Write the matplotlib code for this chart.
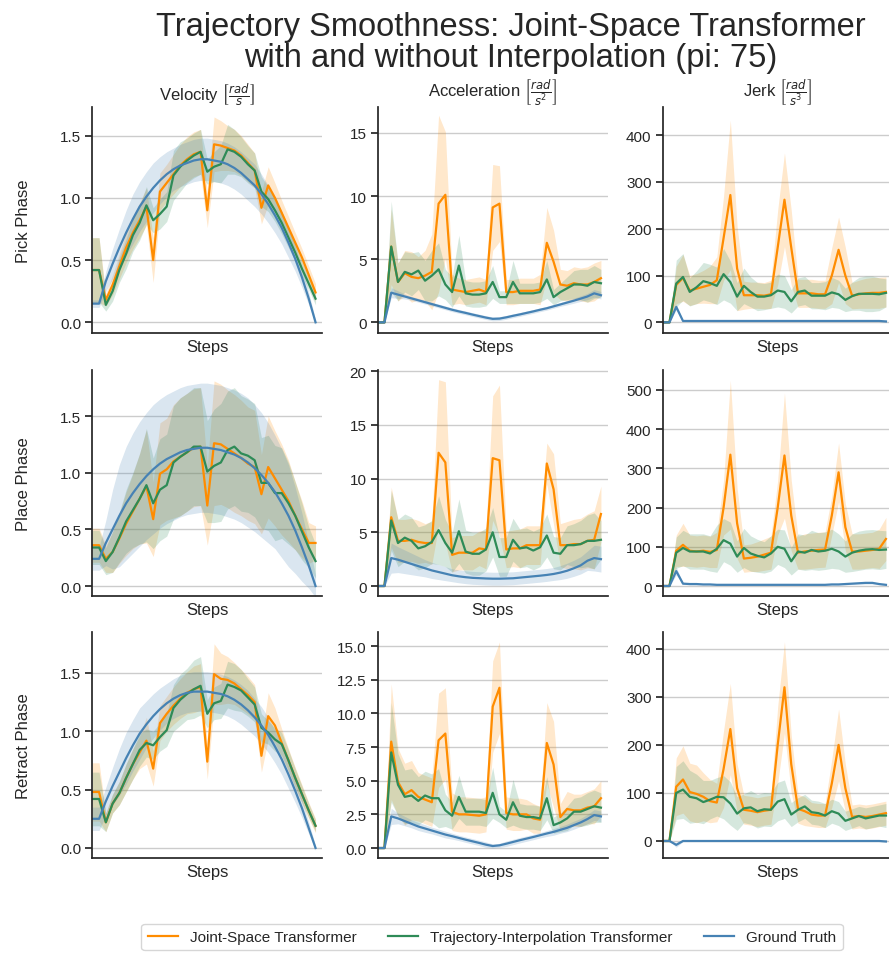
import matplotlib
matplotlib.use("Agg")
import matplotlib.pyplot as plt
import numpy as np

# trajectory smoothness, mean +- spread per step
plt.rcParams['font.family'] = ['Liberation Sans', 'DejaVu Sans']
plt.rcParams['text.color'] = '#262626'
plt.rcParams['axes.labelcolor'] = '#262626'
plt.rcParams['xtick.color'] = '#262626'
plt.rcParams['ytick.color'] = '#262626'

phases = ['Pick Phase', 'Place Phase', 'Retract Phase']
metrics = [r'Velocity $\left[\frac{rad}{s}\right]$',
           r'Acceleration $\left[\frac{rad}{s^2}\right]$',
           r'Jerk $\left[\frac{rad}{s^3}\right]$']
labels = ['Joint-Space Transformer', 'Trajectory-Interpolation Transformer', 'Ground Truth']
colors = ['#ff8c00', '#2e8b57', '#4682b4']

# ---- pick phase ----
pick_vel_js = [0.42, 0.42, 0.18, 0.30, 0.45, 0.60, 0.72, 0.82, 0.93, 0.50, 1.05, 1.12, 1.19, 1.26, 1.31, 1.35, 1.37,
               0.90, 1.43, 1.42, 1.40, 1.38, 1.34, 1.28, 1.22, 0.92, 1.10, 1.00, 0.88, 0.76, 0.64, 0.52, 0.38, 0.24]
pick_vel_js_sd = [0.26, 0.26, 0.05, 0.08, 0.10, 0.12, 0.13, 0.14, 0.15, 0.18, 0.15, 0.15, 0.16, 0.17, 0.18, 0.18, 0.18,
                  0.14, 0.22, 0.20, 0.18, 0.17, 0.16, 0.15, 0.14, 0.13, 0.15, 0.12, 0.10, 0.09, 0.08, 0.07, 0.07, 0.07]
pick_vel_ti = [0.42, 0.42, 0.14, 0.25, 0.42, 0.55, 0.70, 0.80, 0.94, 0.82, 0.87, 0.93, 1.18, 1.25, 1.30, 1.34, 1.37,
               1.21, 1.25, 1.27, 1.39, 1.37, 1.33, 1.27, 1.22, 1.05, 0.99, 0.90, 0.80, 0.68, 0.56, 0.43, 0.31, 0.19]
pick_vel_ti_sd = [0.26, 0.26, 0.05, 0.08, 0.10, 0.12, 0.13, 0.14, 0.15, 0.10, 0.12, 0.12, 0.20, 0.20, 0.18, 0.18, 0.18,
                  0.10, 0.12, 0.15, 0.20, 0.18, 0.16, 0.15, 0.14, 0.12, 0.10, 0.09, 0.09, 0.08, 0.07, 0.06, 0.05, 0.05]
pick_vel_gt = [0.15, 0.15, 0.33, 0.47, 0.60, 0.72, 0.83, 0.93, 1.01, 1.08, 1.14, 1.19, 1.23, 1.26, 1.28, 1.30, 1.31,
               1.31, 1.30, 1.29, 1.27, 1.24, 1.20, 1.15, 1.10, 1.03, 0.95, 0.86, 0.76, 0.64, 0.51, 0.36, 0.19, 0.00]
pick_vel_gt_sd = [0.03, 0.03, 0.08, 0.12, 0.15, 0.18, 0.20, 0.20, 0.20, 0.20, 0.19, 0.18, 0.17, 0.17, 0.17, 0.17, 0.17,
                  0.17, 0.17, 0.17, 0.17, 0.17, 0.17, 0.17, 0.17, 0.16, 0.15, 0.14, 0.13, 0.12, 0.10, 0.08, 0.05, 0.02]

pick_acc_js = [0, 0, 6.0, 3.2, 3.9, 3.6, 3.5, 3.7, 4.0, 9.4, 10.1, 2.6, 2.5, 2.4, 2.5, 2.6, 2.4,
               9.1, 9.4, 2.4, 2.4, 2.5, 2.5, 2.5, 2.6, 6.3, 4.8, 3.0, 2.9, 3.1, 3.0, 3.0, 3.2, 3.5]
pick_acc_js_sd = [0, 0, 3.0, 1.5, 1.8, 2.0, 1.7, 2.0, 3.0, 7.0, 5.0, 1.2, 1.0, 1.0, 1.0, 1.0, 1.0,
                  3.4, 3.0, 1.0, 1.0, 1.0, 1.0, 1.0, 1.2, 2.8, 2.5, 1.2, 1.2, 1.3, 1.3, 1.4, 1.5, 1.4]
pick_acc_ti = [0, 0, 6.0, 3.2, 4.0, 3.8, 4.1, 3.3, 3.7, 4.2, 3.0, 2.4, 4.5, 2.3, 2.2, 2.2, 2.3,
               3.2, 2.0, 2.0, 3.2, 2.3, 2.3, 2.3, 2.4, 3.4, 2.0, 2.4, 2.7, 3.0, 3.0, 2.9, 3.2, 3.1]
pick_acc_ti_sd = [0, 0, 3.6, 1.5, 1.6, 1.7, 1.5, 1.6, 2.0, 2.1, 1.2, 1.2, 2.4, 1.0, 1.0, 1.0, 1.0,
                  1.3, 0.5, 0.5, 1.7, 0.8, 0.8, 0.8, 0.8, 1.5, 0.6, 0.7, 0.9, 1.1, 1.2, 1.3, 1.3, 1.1]
pick_acc_gt = [0, 0, 2.35, 2.2, 2.05, 1.9, 1.75, 1.6, 1.45, 1.3, 1.15, 1.0, 0.87, 0.75, 0.62, 0.5, 0.38,
               0.28, 0.3, 0.4, 0.52, 0.63, 0.75, 0.87, 1.0, 1.12, 1.27, 1.42, 1.57, 1.72, 1.88, 2.05, 2.3, 2.15]
pick_acc_gt_sd = [0, 0, 0.4, 0.3, 0.2, 0.15, 0.15, 0.15, 0.15, 0.15, 0.15, 0.15, 0.15, 0.15, 0.15, 0.15, 0.15,
                  0.15, 0.15, 0.15, 0.15, 0.15, 0.15, 0.15, 0.15, 0.15, 0.15, 0.15, 0.18, 0.2, 0.22, 0.25, 0.3, 0.3]

pick_jerk_js = [0, 0, 80, 95, 68, 72, 76, 80, 90, 180, 272, 115, 58, 58, 58, 57, 60,
                160, 262, 160, 62, 62, 62, 60, 60, 100, 155, 100, 57, 60, 62, 63, 63, 65]
pick_jerk_js_sd = [0, 0, 40, 50, 32, 32, 35, 40, 50, 90, 160, 90, 30, 28, 28, 28, 30,
                   80, 100, 80, 30, 30, 30, 30, 30, 60, 70, 60, 28, 30, 32, 33, 33, 32]
pick_jerk_ti = [0, 0, 83, 97, 65, 75, 88, 84, 78, 103, 86, 55, 78, 65, 55, 55, 58,
                68, 65, 45, 65, 68, 57, 57, 57, 64, 60, 48, 56, 61, 61, 61, 60, 63]
pick_jerk_ti_sd = [0, 0, 50, 50, 30, 35, 40, 40, 40, 55, 45, 30, 38, 32, 30, 28, 28,
                   35, 35, 25, 30, 30, 28, 28, 30, 32, 30, 25, 30, 35, 38, 38, 35, 30]
pick_jerk_gt = [0, 0, 33, 3, 3, 3, 3, 3, 3, 3, 3, 3, 3, 3, 3, 3, 3,
                3, 3, 3, 3, 3, 3, 3, 3, 3, 3, 3, 3, 3, 3, 3, 3, 2]
pick_jerk_gt_sd = [0, 0, 6, 1, 1, 1, 1, 1, 1, 1, 1, 1, 1, 1, 1, 1, 1,
                   1, 1, 1, 1, 1, 1, 1, 1, 1, 1, 1, 1, 1, 1, 1, 1, 1]

# ---- place phase ----
place_vel_js = [0.36, 0.36, 0.24, 0.30, 0.42, 0.55, 0.66, 0.77, 0.88, 0.59, 0.99, 1.03, 1.10, 1.14, 1.18, 1.22, 1.23,
                0.71, 1.26, 1.25, 1.21, 1.17, 1.13, 1.08, 1.05, 0.81, 1.05, 0.95, 0.85, 0.75, 0.62, 0.50, 0.38, 0.38]
place_vel_js_sd = [0.15, 0.15, 0.12, 0.18, 0.22, 0.28, 0.33, 0.40, 0.50, 0.33, 0.45, 0.45, 0.50, 0.52, 0.52, 0.52, 0.52,
                   0.35, 0.55, 0.53, 0.52, 0.52, 0.51, 0.50, 0.50, 0.35, 0.45, 0.42, 0.40, 0.36, 0.30, 0.25, 0.18, 0.15]
place_vel_ti = [0.34, 0.34, 0.22, 0.30, 0.43, 0.57, 0.67, 0.77, 0.89, 0.73, 0.85, 0.89, 1.09, 1.14, 1.18, 1.23, 1.23,
                1.01, 1.06, 1.09, 1.20, 1.23, 1.17, 1.15, 1.11, 0.91, 0.91, 0.82, 0.82, 0.73, 0.62, 0.48, 0.34, 0.22]
place_vel_ti_sd = [0.15, 0.15, 0.12, 0.18, 0.22, 0.28, 0.33, 0.40, 0.50, 0.40, 0.45, 0.45, 0.50, 0.52, 0.52, 0.52, 0.52,
                   0.45, 0.50, 0.52, 0.52, 0.52, 0.51, 0.50, 0.50, 0.40, 0.42, 0.42, 0.40, 0.36, 0.30, 0.25, 0.18, 0.15]
place_vel_gt = [0.24, 0.24, 0.38, 0.50, 0.62, 0.73, 0.82, 0.90, 0.97, 1.03, 1.08, 1.12, 1.15, 1.18, 1.20, 1.21, 1.22,
                1.22, 1.21, 1.20, 1.18, 1.16, 1.13, 1.09, 1.04, 0.98, 0.91, 0.83, 0.73, 0.62, 0.49, 0.34, 0.18, 0.00]
place_vel_gt_sd = [0.10, 0.10, 0.20, 0.35, 0.45, 0.50, 0.53, 0.55, 0.56, 0.57, 0.57, 0.57, 0.57, 0.57, 0.57, 0.57, 0.57,
                   0.57, 0.57, 0.57, 0.57, 0.57, 0.57, 0.57, 0.56, 0.55, 0.53, 0.50, 0.48, 0.45, 0.38, 0.30, 0.20, 0.10]

place_acc_js = [0, 0, 6.4, 4.2, 4.2, 4.3, 4.1, 4.0, 4.0, 12.4, 11.5, 2.9, 3.1, 3.1, 3.1, 3.5, 3.4,
                11.9, 11.7, 3.4, 3.5, 3.5, 3.8, 3.8, 3.8, 11.4, 9.0, 3.8, 3.8, 3.9, 3.9, 4.2, 4.3, 6.7]
place_acc_js_sd = [0, 0, 2.8, 2.0, 2.0, 2.0, 2.0, 1.8, 2.0, 6.8, 7.5, 1.6, 1.6, 1.6, 1.6, 1.6, 1.8,
                   5.8, 7.0, 1.7, 1.7, 1.8, 1.8, 1.8, 1.8, 1.9, 3.3, 2.0, 2.2, 2.3, 2.4, 2.5, 2.7, 2.6]
place_acc_ti = [0, 0, 6.1, 4.0, 4.5, 4.2, 3.5, 3.7, 4.1, 5.2, 4.0, 3.1, 5.1, 3.2, 3.0, 3.0, 3.4,
                5.0, 2.7, 2.7, 4.3, 3.5, 3.6, 3.3, 3.6, 4.7, 3.1, 3.0, 3.8, 3.8, 3.9, 4.2, 4.2, 4.3]
place_acc_ti_sd = [0, 0, 2.8, 2.2, 2.2, 2.2, 2.0, 2.0, 2.0, 3.2, 2.2, 1.8, 3.0, 2.0, 2.0, 2.0, 2.0,
                   2.3, 1.8, 1.8, 2.0, 1.8, 1.8, 1.8, 1.8, 2.0, 1.5, 1.5, 1.8, 2.0, 2.2, 2.4, 2.6, 1.8]
place_acc_gt = [0, 0, 2.6, 2.45, 2.25, 2.05, 1.85, 1.65, 1.45, 1.3, 1.15, 1.0, 0.9, 0.82, 0.76, 0.73, 0.7,
                0.68, 0.68, 0.7, 0.72, 0.78, 0.84, 0.9, 0.96, 1.03, 1.12, 1.25, 1.42, 1.65, 1.92, 2.35, 2.6, 2.5]
place_acc_gt_sd = [0, 0, 1.4, 1.2, 1.1, 1.0, 0.9, 0.8, 0.75, 0.7, 0.65, 0.6, 0.6, 0.6, 0.6, 0.6, 0.6,
                   0.6, 0.6, 0.6, 0.6, 0.6, 0.6, 0.6, 0.6, 0.6, 0.6, 0.65, 0.7, 0.75, 0.8, 0.9, 1.2, 1.2]

place_jerk_js = [0, 0, 90, 105, 90, 88, 90, 87, 92, 200, 335, 160, 70, 72, 75, 80, 85,
                 200, 333, 180, 85, 88, 90, 92, 93, 180, 290, 150, 88, 88, 90, 92, 95, 120]
place_jerk_js_sd = [0, 0, 40, 55, 40, 40, 40, 40, 45, 70, 190, 90, 35, 35, 38, 40, 42,
                    70, 160, 90, 42, 45, 45, 45, 45, 50, 75, 60, 45, 45, 45, 45, 50, 55]
place_jerk_ti = [0, 0, 85, 97, 88, 88, 88, 83, 95, 117, 108, 75, 97, 83, 77, 73, 83,
                 100, 95, 63, 88, 85, 92, 88, 90, 95, 88, 75, 85, 90, 93, 94, 92, 93]
place_jerk_ti_sd = [0, 0, 40, 45, 45, 45, 45, 45, 60, 55, 55, 40, 50, 45, 42, 40, 45,
                    45, 48, 35, 45, 45, 50, 48, 48, 50, 45, 40, 48, 50, 50, 50, 50, 48]
place_jerk_gt = [0, 0, 38, 6, 5, 5, 4, 4, 3, 3, 3, 3, 3, 3, 3, 3, 3,
                 3, 3, 3, 3, 3, 3, 3, 3, 4, 4, 5, 6, 7, 8, 8, 5, 3]
place_jerk_gt_sd = [0, 0, 10, 2, 2, 2, 1, 1, 1, 1, 1, 1, 1, 1, 1, 1, 1,
                    1, 1, 1, 1, 1, 1, 1, 1, 1, 1, 2, 2, 2, 3, 3, 2, 1]

# ---- retract phase ----
retract_vel_js = [0.48, 0.48, 0.22, 0.38, 0.47, 0.60, 0.72, 0.82, 0.92, 0.68, 1.07, 1.15, 1.22, 1.28, 1.33, 1.36, 1.38,
                  0.74, 1.49, 1.45, 1.44, 1.41, 1.36, 1.31, 1.25, 0.79, 1.13, 1.05, 0.90, 0.75, 0.60, 0.46, 0.32, 0.19]
retract_vel_js_sd = [0.25, 0.25, 0.08, 0.08, 0.10, 0.12, 0.13, 0.14, 0.20, 0.15, 0.15, 0.15, 0.16, 0.17, 0.18, 0.20,
                     0.20, 0.15, 0.26, 0.22, 0.20, 0.18, 0.17, 0.16, 0.15, 0.14, 0.20, 0.15, 0.12, 0.10, 0.09, 0.08,
                     0.07, 0.06]
retract_vel_ti = [0.42, 0.42, 0.22, 0.38, 0.47, 0.60, 0.72, 0.84, 0.90, 0.88, 0.95, 1.01, 1.20, 1.27, 1.32, 1.36, 1.39,
                  1.15, 1.24, 1.26, 1.40, 1.38, 1.35, 1.29, 1.23, 1.03, 0.99, 0.93, 0.89, 0.75, 0.60, 0.46, 0.32, 0.19]
retract_vel_ti_sd = [0.23, 0.23, 0.08, 0.08, 0.10, 0.12, 0.13, 0.14, 0.12, 0.12, 0.12, 0.14, 0.20, 0.22, 0.22, 0.25,
                     0.25, 0.12, 0.14, 0.15, 0.20, 0.20, 0.18, 0.16, 0.15, 0.12, 0.10, 0.10, 0.10, 0.09, 0.08, 0.07,
                     0.06, 0.05]
retract_vel_gt = [0.25, 0.25, 0.40, 0.53, 0.65, 0.77, 0.88, 0.98, 1.06, 1.13, 1.19, 1.24, 1.28, 1.31, 1.33, 1.34, 1.34,
                  1.34, 1.33, 1.32, 1.30, 1.27, 1.23, 1.18, 1.12, 1.05, 0.97, 0.87, 0.76, 0.63, 0.49, 0.34, 0.17, 0.00]
retract_vel_gt_sd = [0.10, 0.10, 0.12, 0.16, 0.20, 0.22, 0.22, 0.22, 0.20, 0.19, 0.18, 0.17, 0.17, 0.17, 0.17, 0.17,
                     0.17, 0.17, 0.17, 0.17, 0.17, 0.17, 0.17, 0.17, 0.16, 0.16, 0.15, 0.14, 0.13, 0.12, 0.10, 0.08,
                     0.05, 0.02]

retract_acc_js = [0, 0, 7.9, 4.9, 4.0, 4.3, 3.8, 3.6, 3.4, 8.0, 8.5, 2.7, 2.5, 2.5, 2.45, 2.4, 2.5,
                  10.5, 11.9, 2.6, 2.5, 2.5, 2.5, 2.2, 2.1, 7.8, 6.2, 2.3, 2.9, 2.8, 2.8, 3.0, 3.1, 3.7]
retract_acc_js_sd = [0, 0, 4.3, 2.5, 2.3, 2.2, 1.8, 1.8, 1.8, 3.5, 3.4, 1.4, 1.3, 1.3, 1.3, 1.3, 1.3,
                     3.4, 3.4, 1.2, 1.2, 1.2, 1.1, 1.1, 1.0, 3.0, 3.2, 1.0, 1.3, 1.2, 1.2, 1.2, 1.3, 1.3]
retract_acc_ti = [0, 0, 7.1, 4.7, 3.8, 3.9, 3.5, 3.9, 3.7, 3.7, 2.8, 2.4, 3.8, 2.7, 2.7, 2.7, 2.6,
                  4.1, 2.5, 2.1, 3.4, 2.4, 2.3, 2.3, 2.2, 3.7, 1.7, 1.9, 2.2, 2.7, 2.7, 2.9, 3.1, 3.0]
retract_acc_ti_sd = [0, 0, 3.7, 2.3, 2.0, 2.0, 1.8, 1.8, 1.8, 2.2, 1.2, 1.0, 1.6, 1.0, 1.0, 1.0, 1.0,
                     1.9, 0.6, 0.6, 1.7, 0.9, 0.9, 0.9, 0.9, 1.6, 0.6, 0.7, 0.9, 1.0, 1.1, 1.2, 1.2, 1.1]
retract_acc_gt = [0, 0, 2.35, 2.2, 2.0, 1.8, 1.6, 1.45, 1.3, 1.15, 1.0, 0.88, 0.75, 0.62, 0.5, 0.38, 0.25,
                  0.15, 0.2, 0.32, 0.45, 0.58, 0.7, 0.82, 0.95, 1.08, 1.2, 1.35, 1.5, 1.7, 1.9, 2.15, 2.45, 2.35]
retract_acc_gt_sd = [0, 0, 0.6, 0.4, 0.35, 0.3, 0.3, 0.28, 0.25, 0.25, 0.25, 0.22, 0.2, 0.2, 0.2, 0.2, 0.2,
                     0.15, 0.15, 0.2, 0.2, 0.2, 0.2, 0.2, 0.2, 0.22, 0.25, 0.25, 0.28, 0.3, 0.3, 0.35, 0.4, 0.4]

retract_jerk_js = [0, 0, 113, 128, 102, 98, 92, 83, 80, 150, 233, 110, 65, 63, 60, 63, 65,
                   200, 320, 160, 67, 62, 55, 53, 53, 120, 200, 110, 50, 52, 50, 52, 55, 58]
retract_jerk_js_sd = [0, 0, 60, 70, 60, 60, 50, 45, 40, 80, 95, 50, 30, 30, 30, 30, 30,
                      80, 95, 60, 30, 30, 25, 25, 25, 50, 75, 50, 25, 25, 25, 25, 25, 25]
retract_jerk_ti = [0, 0, 100, 107, 92, 89, 81, 86, 92, 91, 78, 57, 68, 70, 62, 66, 65,
                   82, 87, 55, 65, 72, 60, 58, 53, 62, 57, 42, 47, 52, 47, 50, 53, 53]
retract_jerk_ti_sd = [0, 0, 55, 60, 55, 50, 45, 40, 40, 45, 45, 35, 30, 35, 35, 35, 35,
                      40, 40, 25, 25, 25, 25, 25, 25, 25, 25, 20, 20, 20, 22, 22, 22, 25]
retract_jerk_gt = [0, 0, -8, 0, 0, 0, 0, 0, 0, 0, 0, 0, 0, 0, 0, 0, 0,
                   0, 0, 0, 0, 0, 0, 0, 0, 0, 0, 0, 0, 0, 0, 0, 0, -1]
retract_jerk_gt_sd = [0, 0, 5, 1, 1, 1, 1, 1, 1, 1, 1, 1, 1, 1, 1, 1, 1,
                      1, 1, 1, 1, 1, 1, 1, 1, 1, 1, 1, 1, 1, 1, 1, 1, 1]

grid = [
    [(pick_vel_js, pick_vel_js_sd, pick_vel_ti, pick_vel_ti_sd, pick_vel_gt, pick_vel_gt_sd),
     (pick_acc_js, pick_acc_js_sd, pick_acc_ti, pick_acc_ti_sd, pick_acc_gt, pick_acc_gt_sd),
     (pick_jerk_js, pick_jerk_js_sd, pick_jerk_ti, pick_jerk_ti_sd, pick_jerk_gt, pick_jerk_gt_sd)],
    [(place_vel_js, place_vel_js_sd, place_vel_ti, place_vel_ti_sd, place_vel_gt, place_vel_gt_sd),
     (place_acc_js, place_acc_js_sd, place_acc_ti, place_acc_ti_sd, place_acc_gt, place_acc_gt_sd),
     (place_jerk_js, place_jerk_js_sd, place_jerk_ti, place_jerk_ti_sd, place_jerk_gt, place_jerk_gt_sd)],
    [(retract_vel_js, retract_vel_js_sd, retract_vel_ti, retract_vel_ti_sd, retract_vel_gt, retract_vel_gt_sd),
     (retract_acc_js, retract_acc_js_sd, retract_acc_ti, retract_acc_ti_sd, retract_acc_gt, retract_acc_gt_sd),
     (retract_jerk_js, retract_jerk_js_sd, retract_jerk_ti, retract_jerk_ti_sd, retract_jerk_gt, retract_jerk_gt_sd)],
]

ylims = [[(-0.086, 1.73), (-0.84, 17.05), (-22.7, 460)],
         [(-0.088, 1.906), (-0.93, 20.1), (-25.5, 551)],
         [(-0.086, 1.851), (-0.74, 16.04), (-35.4, 435)]]
yticks = [[[0, 0.5, 1.0, 1.5], [0, 5, 10, 15], [0, 100, 200, 300, 400]],
          [[0, 0.5, 1.0, 1.5], [0, 5, 10, 15, 20], [0, 100, 200, 300, 400, 500]],
          [[0, 0.5, 1.0, 1.5], [0, 2.5, 5, 7.5, 10, 12.5, 15], [0, 100, 200, 300, 400]]]
ytick_fmt = [['{:.1f}', '{:.0f}', '{:.0f}'],
             ['{:.1f}', '{:.0f}', '{:.0f}'],
             ['{:.1f}', '{:.1f}', '{:.0f}']]

W, H = 889, 954
fig = plt.figure(figsize=(W / 100, H / 100), dpi=100)

col_left = [92.3, 377.7, 662.7]
row_top = [108, 371, 633]
ax_w, ax_h = 230, 226

steps = np.arange(len(pick_vel_js))

for r in range(3):
    for c in range(3):
        ax = fig.add_axes([col_left[c] / W, 1 - (row_top[r] + ax_h) / H, ax_w / W, ax_h / H])
        data = grid[r][c]
        for i in range(3):
            m = np.array(data[2 * i], dtype=float)
            sd = np.array(data[2 * i + 1], dtype=float)
            ax.fill_between(steps, m - sd, m + sd, color=colors[i], alpha=0.2, linewidth=0)
            ax.plot(steps, m, color=colors[i], lw=1.6, label=labels[i])
        ax.set_xlim(0, len(steps))
        ax.set_ylim(*ylims[r][c])
        ax.set_yticks(yticks[r][c])
        ax.set_yticklabels([ytick_fmt[r][c].format(v) for v in yticks[r][c]], fontsize=11)
        ax.set_xticks([])
        ax.set_xlabel('Steps', fontsize=12, labelpad=4)
        ax.yaxis.grid(True, color='#cccccc', lw=1.0)
        ax.set_axisbelow(True)
        for s in ['top', 'right']:
            ax.spines[s].set_visible(False)
        for s in ['left', 'bottom']:
            ax.spines[s].set_color('#262626')
            ax.spines[s].set_linewidth(1.25)
        ax.tick_params(axis='y', length=5, width=1.25, pad=3)
        if r == 0:
            ax.set_title(metrics[c], fontsize=12, pad=5)
        if c == 0:
            ax.set_ylabel(phases[r], fontsize=12, labelpad=21)

fig.suptitle('Trajectory Smoothness: Joint-Space Transformer\nwith and without Interpolation (pi: 75)',
             x=511 / W, y=1 - 12 / H, va='top', fontsize=23.5, linespacing=1.02)

handles, _ = fig.axes[0].get_legend_handles_labels()
fig.legend(handles, labels, loc='lower center', bbox_to_anchor=(492 / W, 3 / H), ncol=3,
           fontsize=11, borderaxespad=0, frameon=True, columnspacing=2.0, handlelength=2.0)

fig.savefig('out.png', dpi=100)
